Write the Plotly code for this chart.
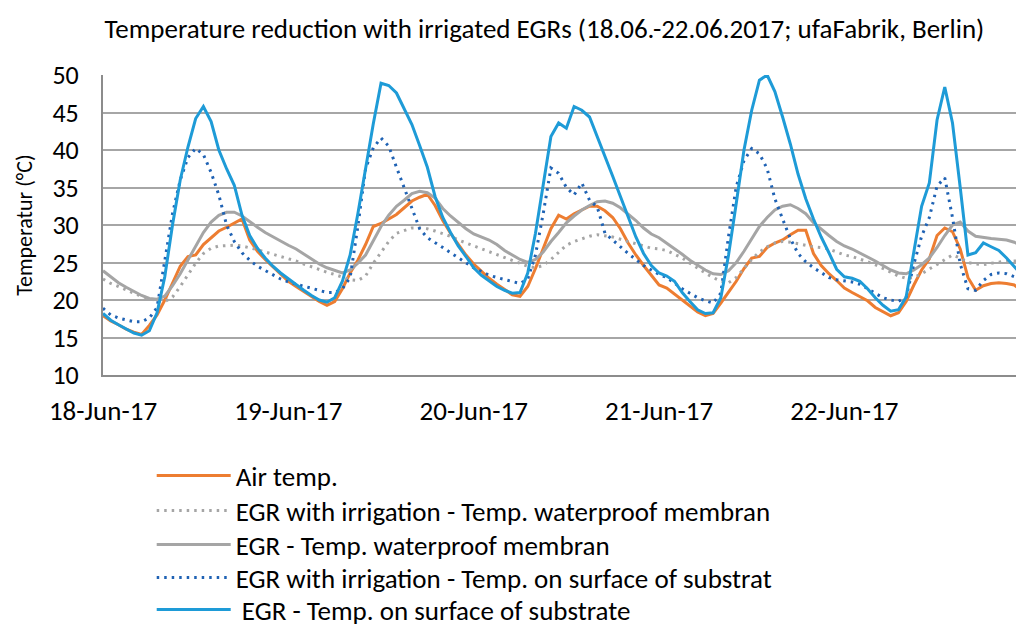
import pandas as pd
import plotly.graph_objects as go

# hourly readings 18.06.2017 00:00 - 22.06.2017 23:00
times = pd.date_range("2017-06-18 00:00", periods=120, freq="h")

air_temp = [
    17.9, 17.2, 16.7, 16.1, 15.7, 15.4, 16.6, 18.0, 20.0, 22.3, 24.5, 25.8, 26.0, 27.4, 28.3, 29.2, 29.7, 30.3, 30.8, 28.0, 26.5, 25.4, 24.4, 23.4,
    22.5, 21.8, 21.1, 20.4, 19.8, 19.3, 19.8, 21.5, 23.6, 25.3, 27.4, 29.8, 30.2, 30.8, 31.4, 32.3, 33.2, 33.7, 34.1, 32.6, 30.6, 28.9, 27.4, 26.0,
    24.8, 23.8, 22.9, 22.1, 21.4, 20.7, 20.5, 21.8, 24.2, 26.8, 29.5, 31.3, 30.8, 31.5, 32.0, 32.5, 32.5, 31.9, 31.0, 29.5, 27.6, 26.0, 24.6, 23.3,
    22.0, 21.6, 20.8, 19.9, 19.2, 18.4, 17.9, 18.2, 19.6, 21.0, 22.5, 24.2, 25.6, 25.8, 27.0, 27.6, 28.0, 28.7, 29.3, 29.3, 26.2, 24.6, 23.5, 22.6,
    21.6, 21.0, 20.5, 19.9, 19.0, 18.4, 17.9, 18.3, 19.8, 22.0, 24.0, 25.5, 28.6, 29.6, 29.1, 26.8, 23.0, 21.3, 21.9, 22.2, 22.3, 22.2, 22.0, 21.2,
]
irr_membrane = [
    22.8, 22.2, 21.8, 21.3, 20.9, 20.5, 20.2, 19.9, 19.8, 20.4, 21.8, 23.3, 24.9, 26.2, 26.9, 27.2, 27.3, 27.3, 27.2, 27.0, 26.7, 26.4, 26.1, 25.8,
    25.6, 25.2, 24.8, 24.4, 24.0, 23.7, 23.4, 23.0, 22.7, 22.6, 23.2, 24.9, 26.4, 27.8, 28.9, 29.3, 29.6, 29.6, 29.5, 29.2, 28.9, 28.5, 28.0, 27.6,
    27.3, 26.8, 26.4, 26.0, 25.6, 25.2, 24.9, 24.5, 24.3, 24.6, 25.4, 26.4, 27.3, 27.8, 28.2, 28.5, 28.7, 28.6, 28.4, 28.1, 27.8, 27.5, 27.2, 26.9,
    26.8, 26.6, 26.1, 25.6, 24.9, 24.2, 23.6, 23.0, 22.5, 22.3, 23.0, 24.2, 25.4, 26.4, 27.1, 27.6, 27.8, 27.7, 27.5, 27.2, 27.1, 27.0, 26.8, 26.4,
    26.0, 25.8, 25.5, 25.1, 24.7, 24.2, 23.7, 23.2, 22.9, 23.0, 23.5, 24.1, 24.8, 25.4, 26.0, 25.6, 25.0, 24.8, 24.7, 24.9, 25.1, 25.2, 25.2, 25.2,
]
egr_membrane = [
    23.9, 23.1, 22.3, 21.7, 21.1, 20.6, 20.2, 20.1, 20.5, 21.9, 23.5, 25.3, 27.3, 29.0, 30.4, 31.3, 31.7, 31.7, 31.2, 30.4, 29.7, 29.0, 28.4, 27.8,
    27.3, 26.8, 26.1, 25.4, 24.8, 24.3, 23.9, 23.6, 24.0, 24.9, 26.0, 27.8, 29.8, 31.3, 32.5, 33.3, 34.2, 34.5, 34.3, 33.6, 32.2, 31.2, 30.3, 29.5,
    28.8, 28.4, 28.0, 27.4, 26.6, 26.0, 25.4, 25.0, 25.4, 26.4, 27.8, 29.0, 30.3, 31.2, 32.0, 32.6, 33.1, 33.2, 32.9, 32.3, 31.5, 30.6, 29.6, 28.8,
    28.3, 27.6, 26.9, 26.1, 25.3, 24.6, 24.0, 23.5, 23.4, 23.9, 25.0, 26.5, 28.2, 29.8, 31.0, 32.0, 32.5, 32.7, 32.2, 31.5, 30.3, 29.4, 28.6, 27.8,
    27.2, 26.8, 26.3, 25.8, 25.2, 24.6, 24.0, 23.6, 23.5, 24.0, 24.7, 25.6, 27.0, 28.6, 30.0, 30.4, 29.2, 28.5, 28.3, 28.2, 28.1, 28.0, 27.7, 27.2,
]
irr_surface = [
    18.9, 18.0, 17.6, 17.3, 17.1, 17.1, 17.6, 19.0, 25.0, 31.5, 36.0, 39.0, 40.2, 39.4, 37.0, 34.0, 30.0, 27.8, 26.3, 25.3, 24.5, 23.9, 23.3, 22.8,
    22.4, 22.1, 21.8, 21.5, 21.2, 21.0, 21.0, 21.5, 23.0, 29.8, 37.5, 40.3, 41.6, 40.5, 37.7, 35.0, 32.2, 29.5, 28.3, 27.7, 27.0, 26.3, 25.6, 24.9,
    24.3, 23.8, 23.3, 23.0, 22.7, 22.4, 22.2, 22.8, 26.0, 31.5, 37.6, 36.9, 35.0, 34.0, 35.6, 33.3, 32.4, 28.9, 28.0, 27.0, 26.2, 25.4, 24.6, 24.0,
    23.4, 23.0, 22.2, 21.5, 20.9, 20.3, 19.9, 19.6, 20.9, 28.5, 35.1, 38.6, 40.2, 39.5, 37.5, 33.5, 30.8, 28.2, 26.2, 25.1, 24.3, 23.6, 23.0, 22.7,
    22.6, 22.4, 22.1, 21.5, 20.8, 20.3, 20.0, 19.8, 20.4, 24.8, 28.5, 31.0, 35.2, 36.3, 31.0, 24.8, 21.5, 21.3, 22.6, 23.4, 23.6, 23.5, 23.1, 22.6,
]
egr_surface = [
    18.2, 17.3, 16.7, 16.1, 15.6, 15.3, 15.9, 18.3, 23.1, 30.0, 36.0, 40.4, 44.2, 45.8, 43.8, 40.0, 37.5, 35.3, 31.3, 28.6, 26.9, 25.6, 24.5, 23.6,
    22.8, 22.0, 21.3, 20.6, 20.0, 19.7, 20.3, 22.5, 26.0, 31.5, 37.5, 43.5, 48.9, 48.6, 47.6, 45.5, 43.4, 40.6, 37.7, 33.8, 31.0, 29.0, 27.2, 25.8,
    24.3, 23.3, 22.5, 21.8, 21.3, 20.9, 21.0, 23.6, 28.9, 35.6, 41.8, 43.6, 42.9, 45.8, 45.3, 44.4, 41.8, 39.3, 36.5, 33.8, 31.0, 28.4, 26.2, 24.6,
    23.6, 23.2, 22.5, 21.0, 19.8, 18.7, 18.2, 18.3, 20.3, 26.0, 32.9, 40.0, 45.3, 49.3, 50.0, 47.8, 44.4, 40.8, 36.8, 33.5, 30.8, 28.4, 26.3, 24.1,
    23.1, 22.9, 22.5, 21.5, 20.3, 19.3, 18.5, 18.7, 20.4, 26.5, 32.5, 35.6, 44.0, 48.4, 43.6, 35.0, 26.0, 26.3, 27.6, 27.1, 26.6, 25.6, 24.5, 23.3,
]

series_names = [
    "Air temp.",
    "EGR with irrigation - Temp. waterproof membran",
    "EGR - Temp. waterproof membran",
    "EGR with irrigation - Temp. on surface of substrat",
    " EGR - Temp. on surface of substrate",
]
series_values = [air_temp, irr_membrane, egr_membrane, irr_surface, egr_surface]
series_colors = ["#ED7D31", "#A5A5A5", "#A5A5A5", "#1F62B4", "#1E9BD7"]
series_dash = ["solid", "2.5px,5px", "solid", "2.5px,5px", "solid"]

FONT = "Carlito, Lato, Liberation Sans, sans-serif"
FS = 27

# the page body adds an 8px margin; the figure is sized to fill the rest
W, H = 1016, 618
PLOT_H = 300

fig = go.Figure()
legend_ids = ["legend", "legend2", "legend3", "legend4", "legend5"]
for name, vals, col, dash, lg in zip(series_names, series_values, series_colors, series_dash, legend_ids):
    fig.add_trace(go.Scatter(
        x=times, y=vals, mode="lines", name=name,
        line=dict(color=col, width=3, dash=dash),
        legend=lg,
    ))

# legend rows, page-pixel centres below the plot (one legend per row)
row_centres = [476, 511, 545, 578, 610]
plot_bottom_page = 375
legend_layout = {}
for lg, yc in zip(legend_ids, row_centres):
    legend_layout[lg] = dict(
        orientation="v", x=0.053, xanchor="left",
        y=(plot_bottom_page - yc) / PLOT_H, yanchor="middle",
        font=dict(family=FONT, size=FS, color="#000000"),
        itemwidth=74, bgcolor="rgba(0,0,0,0)", borderwidth=0,
    )

fig.update_layout(
    width=W, height=H,
    paper_bgcolor="white", plot_bgcolor="white",
    margin=dict(l=95, r=2, t=67, b=H - 67 - PLOT_H, autoexpand=False),
    font=dict(family=FONT, size=FS, color="#000000"),
    title=dict(
        text="Temperature reduction with irrigated EGRs (18.06.-22.06.2017; ufaFabrik, Berlin)",
        x=0.528, xanchor="center", y=0.966, yanchor="middle",
        font=dict(family=FONT, size=27, color="#000000"),
    ),
    showlegend=True,
    **legend_layout,
)
fig.update_xaxes(
    type="date",
    range=["2017-06-18 00:00", "2017-06-22 23:00"],
    tick0="2017-06-18", dtick=86400000, tickformat="%d-%b-%y",
    showgrid=False, showline=True, linecolor="#8C8C8C", linewidth=2,
    ticks="", ticklabelstandoff=11, tickfont=dict(size=FS),
)
fig.update_yaxes(
    range=[10, 50], tick0=10, dtick=5,
    showgrid=True, gridcolor="#A6A6A6", gridwidth=2,
    showline=True, linecolor="#8C8C8C", linewidth=2,
    zeroline=False, ticks="", ticklabelstandoff=17, tickfont=dict(size=26),
    title=dict(text="Temperatur (°C)", standoff=14, font=dict(size=22)),
)

fig.write_html("out.html")
